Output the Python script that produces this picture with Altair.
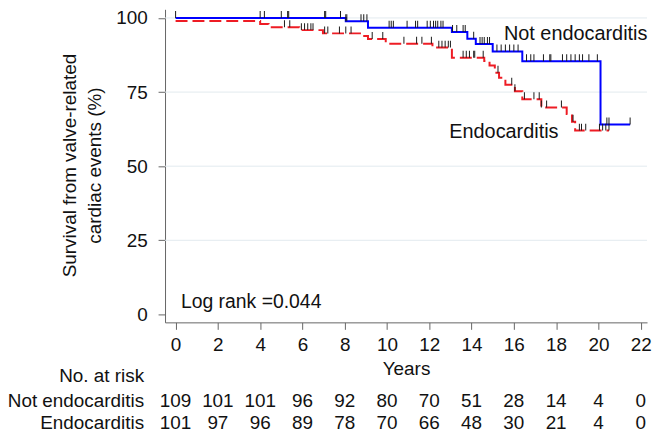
import bisect
import altair as alt
import pandas as pd

# ---------------- data ----------------
years = [0, 2, 4, 6, 8, 10, 12, 14, 16, 18, 20, 22]
risk_not_endo = [109, 101, 101, 96, 92, 80, 70, 51, 28, 14, 4, 0]
risk_endo = [101, 97, 96, 89, 78, 70, 66, 48, 30, 21, 4, 0]

not_endo_time = [0, 8.05, 9.1, 13.07, 13.8, 14.2, 15.0, 16.4, 20.1, 21.5]
not_endo_surv = [100, 98.9, 96.7, 95.3, 93.0, 91.2, 88.7, 85.4, 64.1, 64.1]

endo_time = [0, 4.0, 4.4, 5.85, 6.97, 8.85, 9.1, 9.94, 12.15, 13.07, 14.6, 14.85,
             15.1, 15.3, 15.6, 16.05, 16.4, 17.3, 18.5, 18.75, 18.9, 20.5]
endo_surv = [99.0, 98.0, 96.9, 95.9, 94.8, 93.9, 92.9, 91.3, 90.0, 86.6, 85.5, 84.0,
             81.5, 79.8, 77.5, 75.3, 72.6, 69.8, 67.6, 65.0, 62.0, 62.0]

not_endo_censor = [0.0, 4.0, 4.2, 5.0, 5.3, 5.35, 7.05, 7.1, 7.8, 8.05, 8.1, 8.77, 8.9,
                   9.05, 10.1, 10.2, 10.3, 10.95, 11.35, 11.45, 11.9, 12.05, 12.2, 12.3,
                   12.4, 12.55, 12.65, 13.1, 13.3, 13.6, 13.7, 14.1, 14.4, 14.5, 14.6,
                   14.75, 14.85, 15.2, 15.4, 15.6, 15.8, 16.0, 16.2, 16.6, 16.8, 16.95,
                   17.4, 17.7, 17.75, 18.3, 18.5, 18.7, 18.9, 19.1, 19.25, 19.55, 19.95,
                   20.4, 20.5, 21.5]
endo_censor = [5.15, 5.4, 5.95, 6.1, 6.25, 6.4, 6.5, 7.05, 7.2, 7.75, 8.05, 8.3, 9.3,
               9.8, 10.8, 11.4, 11.65, 12.1, 12.45, 12.6, 12.75, 12.9, 13.0, 13.6,
               13.75, 13.9, 14.1, 14.15, 14.55, 15.25, 15.9, 16.05, 16.5, 16.95, 17.2,
               17.3, 17.55, 18.25, 18.8, 19.1, 19.2, 19.4, 20.05, 20.2, 20.35, 20.5]

y_ticks = [0, 25, 50, 75, 100]
grid_values = [25, 50, 75, 100]


def surv_at(ts, ss, t):
    i = bisect.bisect_right(ts, t) - 1
    return ss[max(i, 0)]


# ---------------- layout ----------------
W, H = 485, 315
FONT = "Liberation Sans"
FS = 19
TXT = "#111111"

x_scale = alt.Scale(domain=[-0.5, 22.3], nice=False, zero=False)
y_scale = alt.Scale(domain=[-2.68, 102.92], nice=False, zero=False)

x_axis = alt.Axis(values=years, format="d", title="Years", grid=False,
                  labelFontSize=FS, titleFontSize=FS, titleFontWeight="normal",
                  labelColor=TXT, titleColor=TXT, domainColor="#666666",
                  tickColor="#666666", tickSize=7, labelPadding=6,
                  titleY=46, titleBaseline="middle", labelFlush=False)
y_axis = alt.Axis(values=y_ticks, format="d",
                  title=["Survival from valve-related", "cardiac events (%)"],
                  grid=False, labelFontSize=FS, titleFontSize=FS,
                  titleFontWeight="normal", labelColor=TXT, titleColor=TXT,
                  domainColor="#666666", tickColor="#666666", tickSize=7,
                  labelPadding=11, titleX=-96, titleY=156.7,
                  titleBaseline="middle", titleAlign="center", titleAngle=270,
                  titleLineHeight=25)


def X():
    return alt.X("time:Q", scale=x_scale, axis=x_axis)


def Y():
    return alt.Y("surv:Q", scale=y_scale, axis=y_axis)


grid_df = pd.DataFrame({"surv": grid_values})
blue_df = pd.DataFrame({"time": not_endo_time, "surv": not_endo_surv})
red_df = pd.DataFrame({"time": endo_time, "surv": endo_surv})
blue_c = pd.DataFrame({"time": not_endo_censor,
                       "surv": [surv_at(not_endo_time, not_endo_surv, t) for t in not_endo_censor]})
red_c = pd.DataFrame({"time": endo_censor,
                      "surv": [surv_at(endo_time, endo_surv, t) for t in endo_censor]})
risk1 = pd.DataFrame({"time": years, "n": risk_not_endo})
risk2 = pd.DataFrame({"time": years, "n": risk_endo})

grid = alt.Chart(grid_df).mark_rule(color="#e2eaef", strokeWidth=1).encode(
    y=Y(), x=alt.value(0), x2=alt.value(W))

blue_line = alt.Chart(blue_df).mark_line(
    interpolate="step-after", color="#0000ff", strokeWidth=2).encode(x=X(), y=Y())
red_line = alt.Chart(red_df).mark_line(
    interpolate="step-after", color="#ee1c24", strokeWidth=2,
    strokeDash=[12, 5]).encode(x=X(), y=Y())

tick_kw = dict(orient="vertical", size=7, thickness=1, color="#1a1a1a", yOffset=-3.5, opacity=1)
blue_ticks = alt.Chart(blue_c).mark_tick(**tick_kw).encode(x=X(), y=Y())
red_ticks = alt.Chart(red_c).mark_tick(**tick_kw).encode(x=X(), y=Y())

txt = dict(fontSize=FS, font=FONT, color=TXT, baseline="middle")
txt20 = dict(fontSize=20, font=FONT, color=TXT, baseline="middle")

lab_not = alt.Chart(pd.DataFrame({"label": ["Not endocarditis"]})).mark_text(
    align="left", **txt20).encode(text="label:N", x=alt.value(341), y=alt.value(25))
lab_endo = alt.Chart(pd.DataFrame({"label": ["Endocarditis"]})).mark_text(
    align="left", **txt20).encode(text="label:N", x=alt.value(286), y=alt.value(123))
lab_log = alt.Chart(pd.DataFrame({"label": ["Log rank =0.044"]})).mark_text(
    align="left", fontSize=19.5, font=FONT, color=TXT, baseline="middle").encode(
    text="label:N", x=alt.value(16), y=alt.value(295))

row_head = alt.Chart(pd.DataFrame({"label": ["No. at risk"]})).mark_text(
    align="right", **txt).encode(text="label:N", x=alt.value(-21), y=alt.value(369))
row_lab1 = alt.Chart(pd.DataFrame({"label": ["Not endocarditis"]})).mark_text(
    align="right", **txt).encode(text="label:N", x=alt.value(-21), y=alt.value(394))
row_lab2 = alt.Chart(pd.DataFrame({"label": ["Endocarditis"]})).mark_text(
    align="right", **txt).encode(text="label:N", x=alt.value(-21), y=alt.value(416))
row1 = alt.Chart(risk1).mark_text(align="center", **txt).encode(
    x=X(), y=alt.value(394), text="n:Q")
row2 = alt.Chart(risk2).mark_text(align="center", **txt).encode(
    x=X(), y=alt.value(416), text="n:Q")

chart = alt.layer(
    grid, blue_line, red_line, blue_ticks, red_ticks,
    lab_not, lab_endo, lab_log, row_head, row_lab1, row_lab2, row1, row2
).properties(
    width=W, height=H,
    autosize=alt.AutoSizeParams(type="none"),
    padding={"left": 158, "top": 0, "right": 5, "bottom": 109},
).configure(font=FONT).configure_view(stroke=None)

chart.save("out.html", embed_options={"renderer": "svg", "actions": False})
